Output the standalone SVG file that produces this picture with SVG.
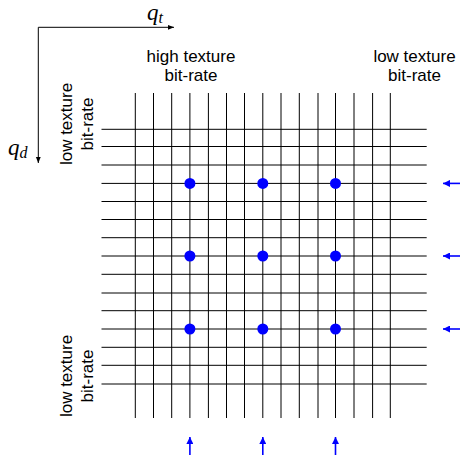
<svg xmlns="http://www.w3.org/2000/svg" width="460" height="455" viewBox="0 0 460 455">
<defs>
<marker id="ak" viewBox="0 0 10 10" refX="10" refY="5" markerWidth="8" markerHeight="6" markerUnits="userSpaceOnUse" orient="auto"><path d="M0,1 L10,5 L0,9 z" fill="#000"/></marker>
<marker id="ab" viewBox="0 0 10 10" refX="10" refY="5" markerWidth="8" markerHeight="7" markerUnits="userSpaceOnUse" orient="auto"><path d="M0,0 L10,5 L0,10 z" fill="#0000ff"/></marker>
</defs>
<style>
.g line{stroke:#000;stroke-width:1}
.t{font-family:"Liberation Sans",Arial,sans-serif;font-size:17px;fill:#000}
.m{font-family:"Liberation Serif","Times New Roman",serif;font-style:italic;fill:#000}
.b{stroke:#0000ff;stroke-width:1.6;marker-end:url(#ab)}
.dot{fill:#0000ff}
</style>
<g id="axes">
<line x1="38.3" y1="27.3" x2="174" y2="27.3" stroke="#000" stroke-width="1" marker-end="url(#ak)"/>
<line x1="38.3" y1="27.3" x2="38.3" y2="163" stroke="#000" stroke-width="1" marker-end="url(#ak)"/>
<text class="m" x="147" y="20" font-size="23">q<tspan font-size="16" dy="3">t</tspan></text>
<text class="m" x="8" y="155" font-size="23">q<tspan font-size="16" dy="3">d</tspan></text>
</g>
<g id="labels">
<text class="t" x="191" y="62" text-anchor="middle">high texture</text>
<text class="t" x="191" y="81" text-anchor="middle">bit-rate</text>
<text class="t" x="414.5" y="62" text-anchor="middle">low texture</text>
<text class="t" x="414.5" y="81" text-anchor="middle">bit-rate</text>
<text class="t" transform="translate(72,124) rotate(-90)" text-anchor="middle">low texture</text>
<text class="t" transform="translate(93,124) rotate(-90)" text-anchor="middle">bit-rate</text>
<text class="t" transform="translate(72,376) rotate(-90)" text-anchor="middle">low texture</text>
<text class="t" transform="translate(93,376) rotate(-90)" text-anchor="middle">bit-rate</text>
</g>
<g id="grid" class="g">
<line x1="135.3" y1="93" x2="135.3" y2="418"/>
<line x1="153.5" y1="93" x2="153.5" y2="418"/>
<line x1="171.7" y1="93" x2="171.7" y2="418"/>
<line x1="189.9" y1="93" x2="189.9" y2="418"/>
<line x1="208.4" y1="93" x2="208.4" y2="418"/>
<line x1="226.5" y1="93" x2="226.5" y2="418"/>
<line x1="244.5" y1="93" x2="244.5" y2="418"/>
<line x1="262.8" y1="93" x2="262.8" y2="418"/>
<line x1="281" y1="93" x2="281" y2="418"/>
<line x1="299.3" y1="93" x2="299.3" y2="418"/>
<line x1="318" y1="93" x2="318" y2="418"/>
<line x1="335.5" y1="93" x2="335.5" y2="418"/>
<line x1="354" y1="93" x2="354" y2="418"/>
<line x1="372.6" y1="93" x2="372.6" y2="418"/>
<line x1="390.3" y1="93" x2="390.3" y2="418"/>
<line x1="101.5" y1="129.3" x2="426.7" y2="129.3"/>
<line x1="101.5" y1="146.5" x2="426.7" y2="146.5"/>
<line x1="101.5" y1="165" x2="426.7" y2="165"/>
<line x1="101.5" y1="183.4" x2="426.7" y2="183.4"/>
<line x1="101.5" y1="201.5" x2="426.7" y2="201.5"/>
<line x1="101.5" y1="219.5" x2="426.7" y2="219.5"/>
<line x1="101.5" y1="237.7" x2="426.7" y2="237.7"/>
<line x1="101.5" y1="256" x2="426.7" y2="256"/>
<line x1="101.5" y1="274.3" x2="426.7" y2="274.3"/>
<line x1="101.5" y1="293" x2="426.7" y2="293"/>
<line x1="101.5" y1="310.7" x2="426.7" y2="310.7"/>
<line x1="101.5" y1="329" x2="426.7" y2="329"/>
<line x1="101.5" y1="347.3" x2="426.7" y2="347.3"/>
<line x1="101.5" y1="365.3" x2="426.7" y2="365.3"/>
<line x1="101.5" y1="384" x2="426.7" y2="384"/>
</g>
<g id="points">
<circle class="dot" cx="189.9" cy="183.4" r="5.5"/>
<circle class="dot" cx="262.8" cy="183.4" r="5.5"/>
<circle class="dot" cx="335.5" cy="183.4" r="5.5"/>
<circle class="dot" cx="189.9" cy="256" r="5.5"/>
<circle class="dot" cx="262.8" cy="256" r="5.5"/>
<circle class="dot" cx="335.5" cy="256" r="5.5"/>
<circle class="dot" cx="189.9" cy="329" r="5.5"/>
<circle class="dot" cx="262.8" cy="329" r="5.5"/>
<circle class="dot" cx="335.5" cy="329" r="5.5"/>
</g>
<g id="connectors">
<line class="b" x1="462" y1="183.4" x2="443" y2="183.4"/>
<line class="b" x1="462" y1="256" x2="443" y2="256"/>
<line class="b" x1="462" y1="329" x2="443" y2="329"/>
<line class="b" x1="189.9" y1="457" x2="189.9" y2="437"/>
<line class="b" x1="262.8" y1="457" x2="262.8" y2="437"/>
<line class="b" x1="335.5" y1="457" x2="335.5" y2="437"/>
</g>
</svg>
